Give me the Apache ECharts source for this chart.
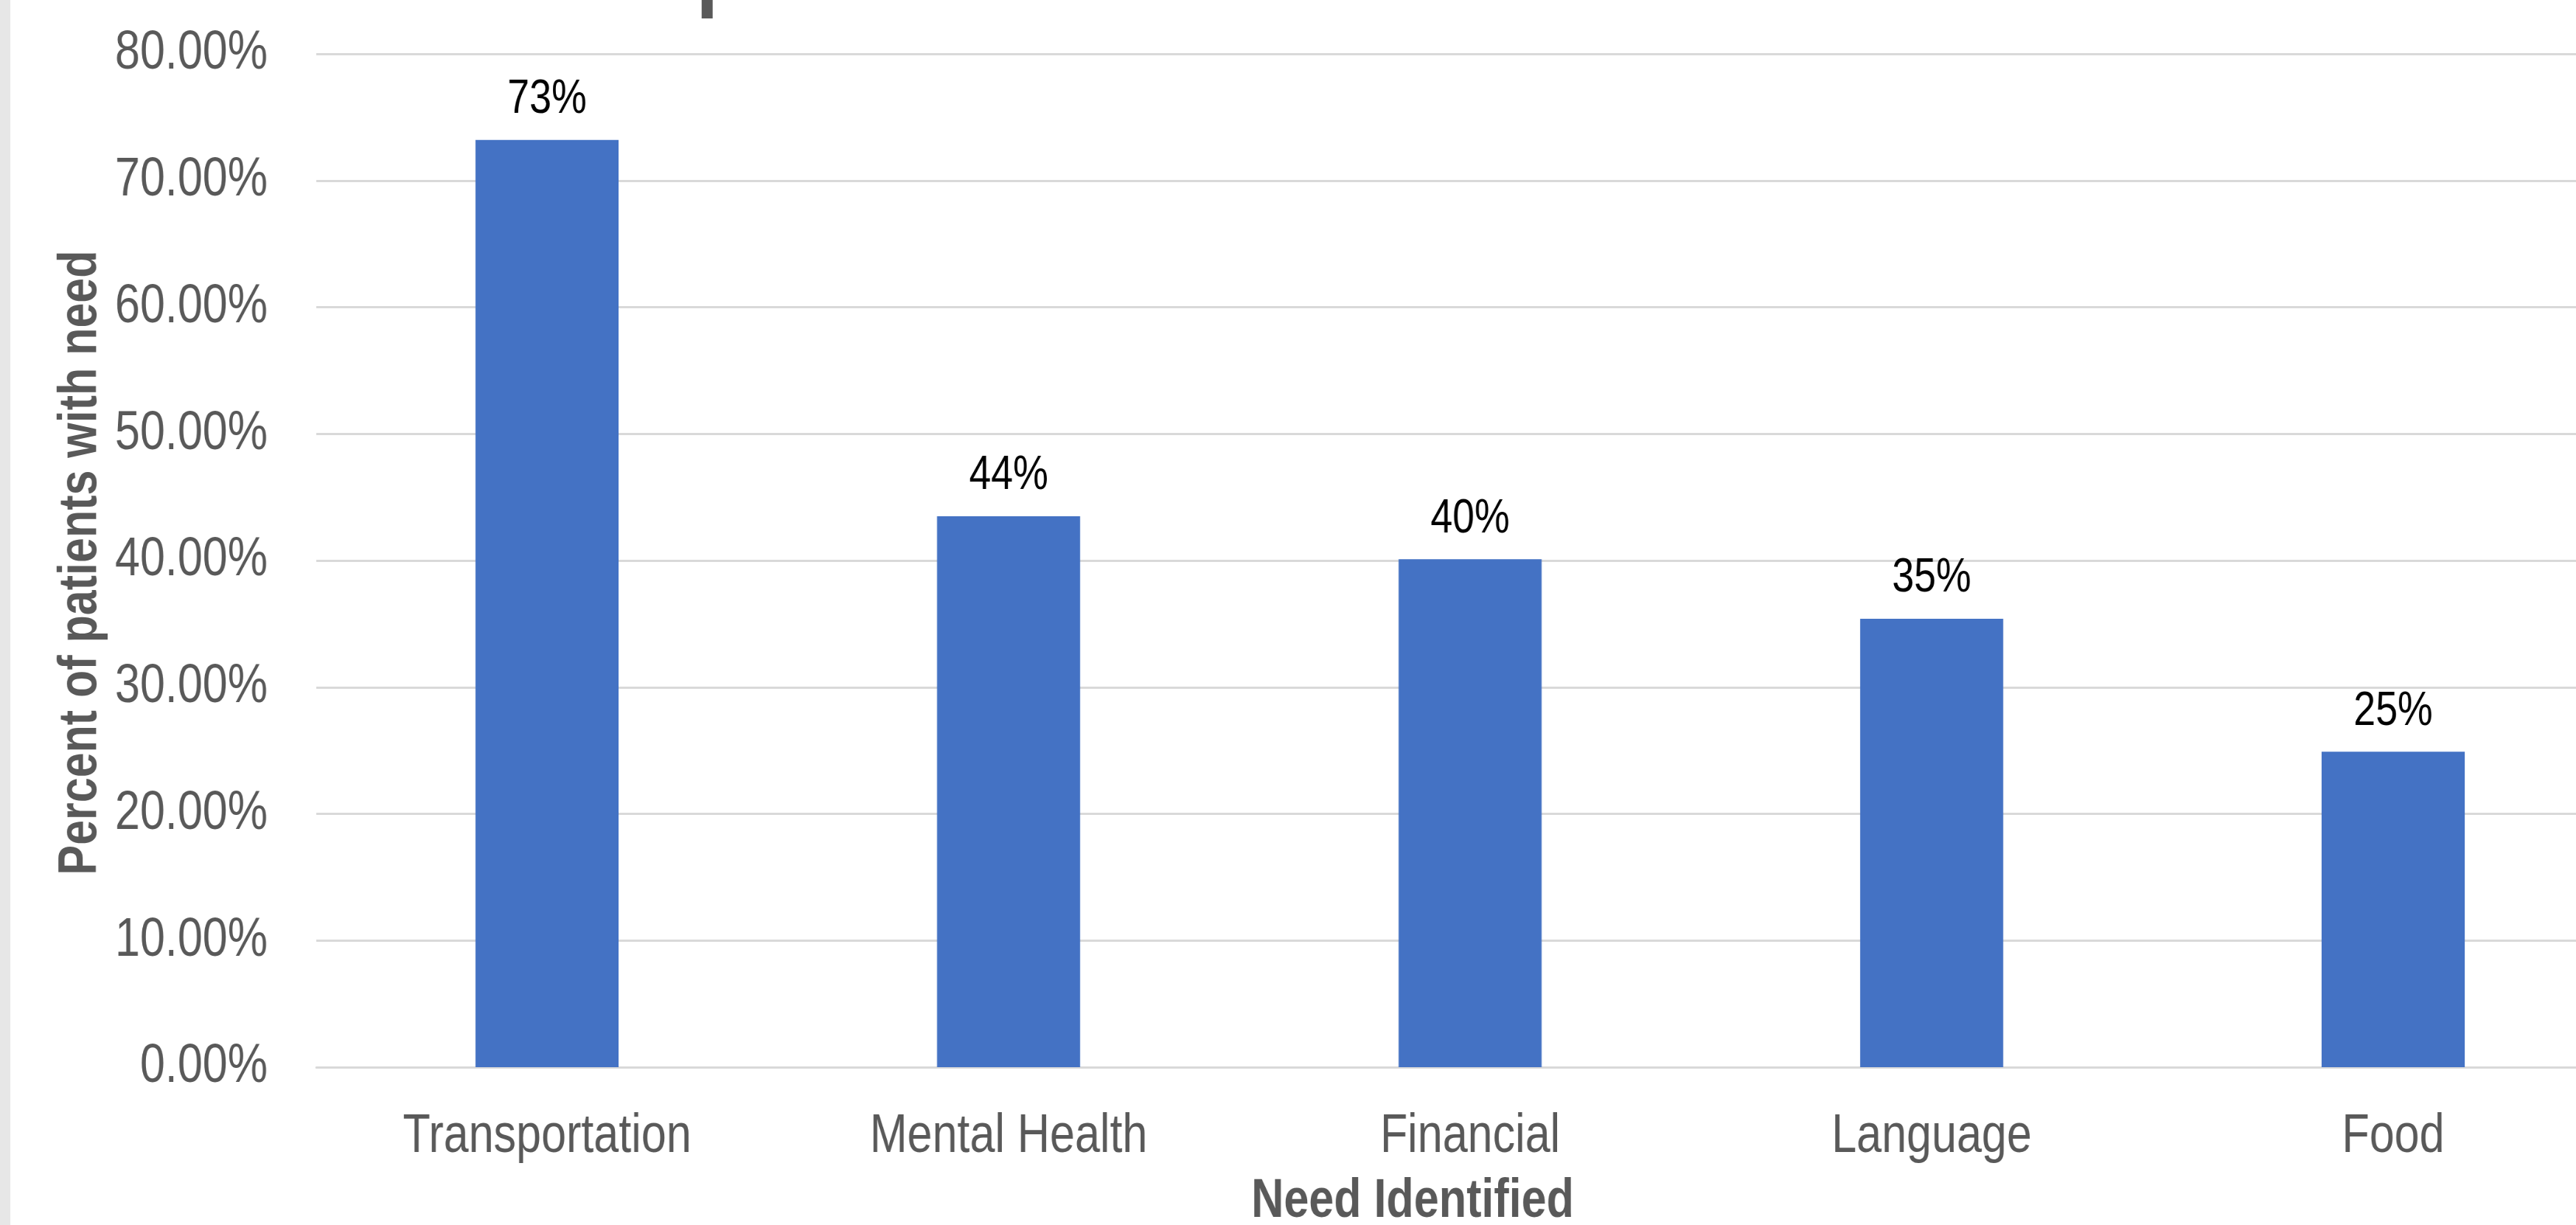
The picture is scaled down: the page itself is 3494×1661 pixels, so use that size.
<!DOCTYPE html>
<html>
<head>
<meta charset="utf-8">
<script src="https://cdn.jsdelivr.net/npm/echarts@6/dist/echarts.min.js"></script>
<style>
html,body{margin:0;padding:0;background:#fff;overflow:hidden;}
#wrap{width:3494px;height:1661px;overflow:hidden;position:relative;}
/* the source chart uses a condensed face; render wide and condense horizontally */
#chart{width:4320px;height:1661px;transform:scaleX(0.825);transform-origin:0 0;position:absolute;left:0;top:0;}
</style>
</head>
<body>
<div id="wrap"><div id="chart"></div></div>
<script>
const titleText = 'Top Social Needs Identified in Patients';
const categories = ['Transportation', 'Mental Health', 'Financial', 'Language', 'Food'];
const values = [73.2, 43.5, 40.1, 35.4, 24.9];
const yTicks = { min: 0, max: 80, interval: 10 };
const xAxisTitle = 'Need Identified';
const yAxisTitle = 'Percent of patients with need';

const FONT = '"Liberation Sans", Arial, Helvetica, sans-serif';
const SX = 0.825; // horizontal condensing of the container

const chart = echarts.init(document.getElementById('chart'), null, { renderer: 'canvas' });
chart.setOption({
  backgroundColor: '#ffffff',
  animation: false,
  title: {
    text: titleText,
    left: 1806 / SX,
    top: -109,
    textAlign: 'center',
    textStyle: { fontFamily: FONT, fontSize: 131, fontWeight: 'bold', color: '#595959' }
  },
  graphic: [
    {
      type: 'rect',
      shape: { x: 0, y: 0, width: 14 / SX, height: 1661 },
      style: { fill: '#e7e7e7' },
      silent: true
    },
    {
      type: 'text',
      x: 110 / SX,
      y: 763,
      rotation: Math.PI / 2,
      scaleX: 0.824,
      scaleY: 1 / SX,
      silent: true,
      style: {
        text: yAxisTitle,
        fontFamily: FONT,
        fontSize: 74,
        fontWeight: 'bold',
        fill: '#595959',
        align: 'center',
        verticalAlign: 'middle'
      }
    }
  ],
  grid: { left: 429 / SX, top: 73, width: 3130 / SX, height: 1374, containLabel: false, outerBoundsMode: 'none' },
  xAxis: {
    type: 'category',
    data: categories,
    name: xAxisTitle,
    nameLocation: 'middle',
    nameGap: 146,
    nameTextStyle: { fontFamily: FONT, fontSize: 74, fontWeight: 'bold', color: '#595959', padding: [0, 189, 0, 0] },
    axisLine: { show: true, lineStyle: { color: '#d9d9d9', width: 3 } },
    axisTick: { show: false },
    axisLabel: { margin: 58, fontFamily: FONT, fontSize: 74, color: '#595959', interval: 0 },
    splitLine: { show: false }
  },
  yAxis: {
    type: 'value',
    min: yTicks.min,
    max: yTicks.max,
    interval: yTicks.interval,
    axisLine: { show: false },
    axisTick: { show: false },
    axisLabel: {
      margin: 80,
      fontFamily: FONT, fontSize: 74, color: '#595959',
      formatter: v => v.toFixed(2) + '%'
    },
    splitLine: { show: true, lineStyle: { color: '#d9d9d9', width: 3 } }
  },
  series: [{
    type: 'bar',
    data: values,
    barWidth: '31%',
    itemStyle: { color: '#4472C4' },
    label: {
      show: true,
      position: 'top',
      distance: 22,
      fontFamily: FONT,
      fontSize: 65,
      color: '#000000',
      formatter: p => Math.round(p.value) + '%'
    }
  }]
});
</script>
</body>
</html>
